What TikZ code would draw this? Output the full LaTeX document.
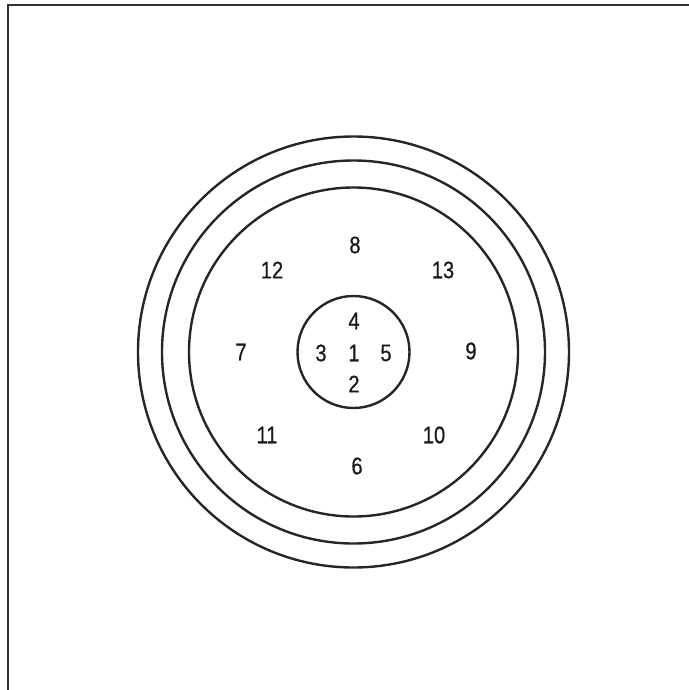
\documentclass[tikz,border=0pt]{standalone}
\usepackage{fontspec}
\setmainfont[FakeStretch=0.84,FakeBold=0.6]{Liberation Sans}
\begin{document}
\begin{tikzpicture}[x=0.5pt,y=-0.5pt,
  ring/.style={draw=black!85,line width=1.2pt},
  frame/.style={draw=black!80,line width=1.3pt},
  num/.style={font=\fontsize{12}{12}\selectfont,text=black!90,inner sep=0pt}]
\useasboundingbox (0,0) rectangle (689,690);
\coordinate (tl) at (8,5);
\coordinate (tr) at (689,5);
\coordinate (bl) at (8,690);
\draw[frame] (bl) -- (tl) -- (tr);
\coordinate (c) at (353.5,352);
\draw[ring] (c) circle[radius=215.5];
\draw[ring] (c) circle[radius=191.5];
\draw[ring] (c) circle[radius=164.5];
\draw[ring] (c) circle[radius=56];
\node[num] (n1) at (354,353) {1};
\node[num] (n2) at (354,384) {2};
\node[num] (n3) at (321,353) {3};
\node[num] (n4) at (354,321) {4};
\node[num] (n5) at (386,353) {5};
\node[num] (n6) at (357,466) {6};
\node[num] (n7) at (241,352) {7};
\node[num] (n8) at (355,245) {8};
\node[num] (n9) at (471,351) {9};
\node[num] (n10) at (434,435) {10};
\node[num] (n11) at (267,435) {11};
\node[num] (n12) at (272,270) {12};
\node[num] (n13) at (443,270) {13};
\end{tikzpicture}
\end{document}
